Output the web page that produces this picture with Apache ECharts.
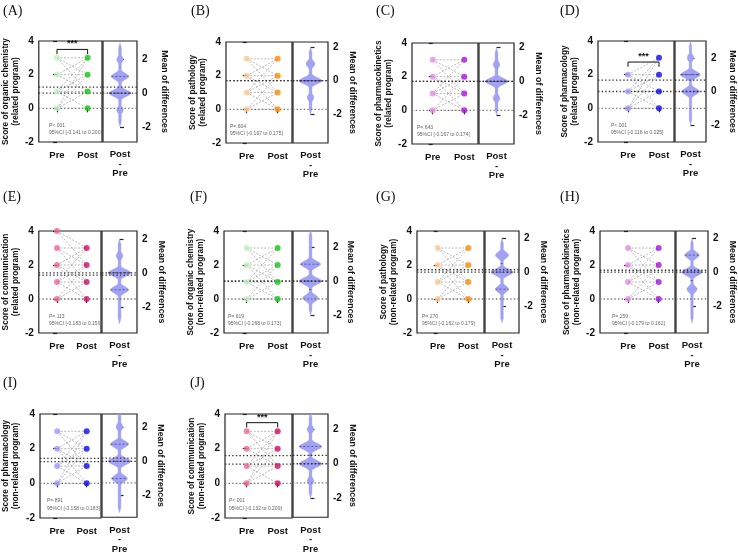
<!DOCTYPE html>
<html><head><meta charset="utf-8">
<script src="https://cdn.jsdelivr.net/npm/echarts@6/dist/echarts.min.js"></script>
<style>html,body{margin:0;padding:0;background:#fff}#c{width:738px;height:554px}</style>
</head><body><div id="c"></div>
<script>
// ---------------- DATA ----------------
const panelLabels = ['(A)','(B)','(C)','(D)','(E)','(F)','(G)','(H)','(I)','(J)'];
const yTitles = [
  'Score of organic chemistry\n(related program)',
  'Score of pathology\n(related program)',
  'Score of pharmacokinetics\n(related program)',
  'Score of pharmacology\n(related program)',
  'Score of communication\n(related program)',
  'Score of organic chemistry\n(non-related program)',
  'Score of pathology\n(non-related program)',
  'Score of pharmacokinetics\n(non-related program)',
  'Score of pharmacology\n(non-related program)',
  'Score of communication\n(non-related program)'
];
const rightTitle = 'Mean of differences';
const xCategories = ['Pre','Post'];
const diffCategory = 'Post\n-\nPre';
const yTicks = [-2,0,2,4];
const diffTicks = [-2,0,2];
const pTexts = ['P<.001','P=.604','P=.643','P<.001','P=.113','P=.619','P=.270','P=.259','P=.891','P<.001'];
const ciTexts = ['95%CI [-0.141 to 0.200]','95%CI [-0.167 to 0.175]','95%CI [-0.167 to 0.174]','95%CI [-0.116 to 0.225]',
  '95%CI [-0.183 to 0.159]','95%CI [-0.168 to 0.173]','95%CI [-0.162 to 0.179]','95%CI [-0.179 to 0.162]',
  '95%CI [-0.158 to 0.183]','95%CI [-0.132 to 0.209]'];
const preMeans  = [0.90,1.70,1.72,1.00,1.54,1.05,1.58,1.58,1.25,1.11];
const postMeans = [1.26,1.70,1.72,1.67,1.41,1.05,1.72,1.69,1.44,1.60];
const preDots = [[0,1,2,3],[0,1,2,3],[0,1,2,3],[0,1,2],[0,1,2,3,4],[0,1,2,3],[0,1,2,3],[0,1,2,3],[0,1,2,3],[0,1,2,3]];
const postDots = [[0,1,2,3],[0,1,2,3],[0,1,2,3],[0,1,2,3],[0,1,2,3],[0,1,2,3],[0,1,2,3],[0,1,2,3],[0,1,2,3],[0,1,2,3]];
const pairLines = [
  [[0,0],[0,1],[0,2],[0,3],[1,0],[1,1],[1,2],[1,3],[2,1],[2,2],[2,3],[3,1],[3,2],[3,3]],
  [[0,0],[0,1],[0,2],[1,0],[1,1],[1,2],[1,3],[2,0],[2,1],[2,2],[2,3],[3,1],[3,2],[3,3]],
  [[0,0],[0,1],[0,2],[1,0],[1,1],[1,2],[1,3],[2,0],[2,1],[2,2],[2,3],[3,1],[3,2],[3,3]],
  [[0,0],[0,1],[0,2],[0,3],[1,0],[1,1],[1,2],[1,3],[2,0],[2,1],[2,2],[2,3]],
  [[0,0],[0,1],[0,2],[1,0],[1,1],[1,2],[1,3],[2,0],[2,1],[2,2],[2,3],[3,1],[3,2],[3,3],[4,2],[4,3]],
  [[0,0],[0,1],[0,2],[1,0],[1,1],[1,2],[1,3],[2,0],[2,1],[2,2],[2,3],[3,1],[3,2],[3,3]],
  [[0,0],[0,1],[0,2],[1,0],[1,1],[1,2],[1,3],[2,0],[2,1],[2,2],[2,3],[3,1],[3,2],[3,3]],
  [[0,0],[0,1],[0,2],[1,0],[1,1],[1,2],[1,3],[2,0],[2,1],[2,2],[2,3],[3,1],[3,2],[3,3]],
  [[0,0],[0,1],[0,2],[0,3],[1,0],[1,1],[1,2],[1,3],[2,0],[2,1],[2,2],[2,3],[3,1],[3,2],[3,3]],
  [[0,0],[0,1],[0,2],[0,3],[1,0],[1,1],[1,2],[1,3],[2,1],[2,2],[2,3],[3,1],[3,2],[3,3]]
];
const diffValues = [-2,-1,0,1,2,3];
const diffCounts = [
  [0,3,10,8,3,0],
  [0,3,10,4,0,0],
  [0,3,10,3,0,0],
  [0,1,8,9,3,0],
  [1,8,10,3,0,0],
  [0,7,10,9,1,0],
  [1,6,10,6,0,0],
  [1,5,10,7,0,0],
  [1,7,10,8,3,0],
  [0,3,10,10,3,0]
];
const sigMarks  = ['***','','','***','','','','','','***'];
const sigLevels = [3.5,null,null,2.75,null,null,null,null,null,3.5];
const preColors  = ['#bdf2bd','#ffca92','#e490e8','#9c9cfa','#f0689c','#bdf2bd','#ffca92','#e490e8','#9c9cfa','#f0689c'];
const postColors = ['#14c414','#ff8a00','#aa10e2','#0a0af2','#d40a62','#14c414','#ff8a00','#aa10e2','#0a0af2','#d40a62'];

// ---------------- LAYOUT ----------------
const layout = [
  {L:36, D:102,R:137,T:41, H:101,pre:55,   post:87,   lx:3,  ly:4,  px:13,ng:15,rg:23},
  {L:226,D:292,R:328,T:42, H:101,pre:246.7,post:277.7,lx:191,ly:4,  px:4, ng:14,rg:20},
  {L:412,D:478,R:514,T:43, H:101,pre:432.7,post:464.3,lx:376,ly:4,  px:5, ng:15,rg:20},
  {L:598,D:674,R:707,T:41, H:101,pre:628,  post:659,  lx:560,ly:4,  px:13,ng:9, rg:22},
  {L:36, D:101,R:137,T:231,H:102,pre:55,   post:86,   lx:3,  ly:190,px:13,ng:15,rg:20},
  {L:224,D:292,R:328,T:231,H:102,pre:246.7,post:277.7,lx:190,ly:190,px:4, ng:13,rg:18},
  {L:417,D:484,R:519,T:231,H:102,pre:437.7,post:468.3,lx:376,ly:190,px:5, ng:18,rg:20},
  {L:600,D:675,R:709,T:231,H:102,pre:628,  post:658.7,lx:560,ly:190,px:12,ng:9, rg:20},
  {L:37, D:101,R:137,T:414,H:104,pre:55,   post:86,   lx:3,  ly:376,px:10,ng:19,rg:19},
  {L:225,D:292,R:328,T:414,H:104,pre:246.7,post:277.7,lx:190,ly:376,px:4, ng:13,rg:20}
];

const NARROW = '"Liberation Sans Narrow","Arial Narrow","Liberation Sans",Arial,sans-serif';
const SANS = '"Liberation Sans",Arial,sans-serif';
const SERIF = '"Liberation Serif","Times New Roman",serif';

function quantile(s,q){const pos=(s.length-1)*q;const b=Math.floor(pos);const r=pos-b;return s[b+1]!==undefined?s[b]+r*(s[b+1]-s[b]):s[b];}
function violinModel(counts,yMin,yMax){
  let lo=Infinity,hi=-Infinity;const list=[];
  diffValues.forEach((v,k)=>{if(counts[k]>0){lo=Math.min(lo,v);hi=Math.max(hi,v);for(let n=0;n<counts[k];n++)list.push(v);}});
  lo-=1;hi+=1;
  const a=Math.max(lo,yMin),b=Math.min(hi,yMax);
  const h=0.19,step=0.02;
  const dens=y=>diffValues.reduce((s,v,k)=>s+counts[k]*Math.exp(-(y-v)*(y-v)/(2*h*h)),0);
  let maxD=0;for(let y=a;y<=b+1e-9;y+=step)maxD=Math.max(maxD,dens(y));
  const width=y=>{const t=Math.max(0,Math.min(1,(y-lo)/0.3,(hi-y)/0.3));return Math.max(0.08*t,0.64*dens(y)/maxD);};
  const prof=[];for(let y=a;y<=b+1e-9;y+=step)prof.push([y,width(y)]);
  list.sort((x,y)=>x-y);
  return {prof,width,q:[quantile(list,0.25),quantile(list,0.5),quantile(list,0.75)]};
}

const grid=[],xAxis=[],yAxis=[],series=[],graphic=[];
const axisCol='#222';
layout.forEach((g,i)=>{
  const unit=g.post-g.pre;
  const xmin=-(g.pre-g.L)/unit, xmax=(g.D-g.pre)/unit;
  const r0=preMeans[i];
  const rmin=-2-r0, rmax=4-r0;
  const li=2*i, ri=2*i+1;
  grid.push({left:g.L,top:g.T,width:g.D-g.L,height:g.H,show:true,borderColor:axisCol,borderWidth:1.2,backgroundColor:'transparent'});
  grid.push({left:g.D+1,top:g.T,width:g.R-g.D-1,height:g.H,show:true,borderColor:axisCol,borderWidth:1.2,backgroundColor:'transparent'});
  xAxis.push({gridIndex:li,type:'value',min:xmin,max:xmax,axisLine:{show:false},splitLine:{show:false},
    axisTick:{show:true,customValues:[0,1],length:4,lineStyle:{color:axisCol,width:1.2}},
    axisLabel:{customValues:[0,1],formatter:v=>xCategories[Math.round(v)],fontSize:9.5,fontWeight:'bold',color:'#111',margin:8,fontFamily:NARROW}});
  xAxis.push({gridIndex:ri,type:'value',min:-1,max:1,axisLine:{show:false},splitLine:{show:false},
    axisTick:{show:true,customValues:[0],length:4,lineStyle:{color:axisCol,width:1.2}},
    axisLabel:{customValues:[0],formatter:()=>diffCategory,fontSize:9.5,lineHeight:9.5,fontWeight:'bold',color:'#111',margin:8,fontFamily:NARROW}});
  yAxis.push({gridIndex:li,type:'value',min:-2,max:4,axisLine:{show:false},splitLine:{show:false},
    axisTick:{show:true,customValues:yTicks,length:4,lineStyle:{color:axisCol,width:1.2}},
    axisLabel:{customValues:yTicks,fontSize:10,fontWeight:'bold',color:'#111',margin:5,fontFamily:NARROW},
    name:yTitles[i],nameLocation:'middle',nameRotate:90,nameGap:g.ng,
    nameTextStyle:{fontSize:8.3,fontWeight:'bold',color:'#111',lineHeight:10,fontFamily:SANS}});
  yAxis.push({gridIndex:ri,type:'value',position:'right',min:rmin,max:rmax,axisLine:{show:false},splitLine:{show:false},
    axisTick:{show:true,customValues:diffTicks,length:4,lineStyle:{color:axisCol,width:1.2}},
    axisLabel:{customValues:diffTicks,fontSize:10,fontWeight:'bold',color:'#111',margin:5,fontFamily:NARROW},
    name:rightTitle,nameLocation:'middle',nameRotate:-90,nameGap:g.rg,
    nameTextStyle:{fontSize:8.8,fontWeight:'bold',color:'#111',fontFamily:SANS}});

  // paired lines
  series.push({type:'custom',xAxisIndex:li,yAxisIndex:li,z:2,silent:true,data:pairLines[i],
    renderItem:(p,api)=>{const a=api.coord([0,api.value(0)]),b=api.coord([1,api.value(1)]);
      return {type:'line',shape:{x1:a[0],y1:a[1],x2:b[0],y2:b[1]},style:{stroke:'#9c9c9c',lineWidth:0.7,lineDash:[2,1.5]}};}});
  // reference lines left
  const dotted=[1.4,2.2];
  series.push({type:'line',xAxisIndex:li,yAxisIndex:li,z:3,silent:true,showSymbol:false,symbol:'none',
    data:[[xmin,0],[xmax,0]],lineStyle:{color:'#777',width:1.3,type:dotted}});
  series.push({type:'line',xAxisIndex:li,yAxisIndex:li,z:3,silent:true,showSymbol:false,symbol:'none',
    data:[[xmin,preMeans[i]],[xmax,preMeans[i]]],lineStyle:{color:'#333',width:1.3,type:dotted}});
  series.push({type:'line',xAxisIndex:li,yAxisIndex:li,z:3,silent:true,showSymbol:false,symbol:'none',
    data:[[xmin,postMeans[i]],[xmax,postMeans[i]]],lineStyle:{color:'#333',width:1.3,type:dotted}});
  // dots
  series.push({type:'scatter',xAxisIndex:li,yAxisIndex:li,z:5,silent:true,symbolSize:6,
    data:preDots[i].map(v=>[0,v]),itemStyle:{color:preColors[i]}});
  series.push({type:'scatter',xAxisIndex:li,yAxisIndex:li,z:5,silent:true,symbolSize:6,
    data:postDots[i].map(v=>[1,v]),itemStyle:{color:postColors[i]}});
  // significance
  if(sigMarks[i]){
    series.push({type:'custom',xAxisIndex:li,yAxisIndex:li,z:6,silent:true,data:[[0.5,sigLevels[i]]],
      renderItem:(p,api)=>{const lv=api.value(1);
        const a=api.coord([0,lv-0.28]),b=api.coord([0,lv]),c=api.coord([1,lv]),d=api.coord([1,lv-0.28]),m=api.coord([0.5,lv]);
        return {type:'group',children:[
          {type:'polyline',shape:{points:[a,b,c,d]},style:{stroke:'#111',lineWidth:1,fill:null}},
          {type:'text',x:m[0],y:m[1]-1,style:{text:sigMarks[i],align:'center',verticalAlign:'bottom',fill:'#111',font:'bold 9px '+SANS}}]};}});
  }
  // right side reference lines
  series.push({type:'line',xAxisIndex:ri,yAxisIndex:ri,z:4,silent:true,showSymbol:false,symbol:'none',
    data:[[-1,-preMeans[i]],[1,-preMeans[i]]],lineStyle:{color:'#777',width:1.3,type:dotted}});
  series.push({type:'line',xAxisIndex:ri,yAxisIndex:ri,z:4,silent:true,showSymbol:false,symbol:'none',
    data:[[-1,0],[1,0]],lineStyle:{color:'#333',width:1.3,type:dotted}});
  series.push({type:'line',xAxisIndex:ri,yAxisIndex:ri,z:4,silent:true,showSymbol:false,symbol:'none',
    data:[[-1,postMeans[i]-preMeans[i]],[1,postMeans[i]-preMeans[i]]],lineStyle:{color:'#333',width:1.3,type:dotted}});
  // violin
  const vm=violinModel(diffCounts[i],rmin,rmax);
  series.push({type:'custom',xAxisIndex:ri,yAxisIndex:ri,z:3,silent:true,data:[[0,0]],
    renderItem:(p,api)=>{
      const poly=[];
      vm.prof.forEach(([y,w])=>poly.push(api.coord([w,y])));
      for(let k=vm.prof.length-1;k>=0;k--)poly.push(api.coord([-vm.prof[k][1],vm.prof[k][0]]));
      const ch=[{type:'polygon',shape:{points:poly},style:{fill:'#a2a2f4',stroke:'#a2a2f4',lineWidth:0.4}}];
      vm.q.forEach((qv,j)=>{const w=vm.width(qv);const a=api.coord([-w,qv]),b=api.coord([w,qv]);
        ch.push({type:'line',shape:{x1:a[0],y1:a[1],x2:b[0],y2:b[1]},style:{stroke:'#4a4a7a',lineWidth:0.8,lineDash:j===1?[3,2]:[2,2]}});});
      return {type:'group',children:ch};}});

  // texts
  graphic.push({type:'text',left:g.lx,top:g.ly,style:{text:panelLabels[i],font:'14px '+SERIF,fill:'#111'}});
  graphic.push({type:'text',left:g.L+g.px,top:g.T+0.812*g.H,style:{text:pTexts[i],font:'5px '+NARROW,fill:'#666'}});
  graphic.push({type:'text',left:g.L+g.px,top:g.T+0.885*g.H,style:{text:ciTexts[i],font:'5px '+NARROW,fill:'#666'}});
});

const chart=echarts.init(document.getElementById('c'),null,{renderer:'canvas'});
chart.setOption({animation:false,backgroundColor:'#fff',grid,xAxis,yAxis,series,graphic});
</script></body></html>
